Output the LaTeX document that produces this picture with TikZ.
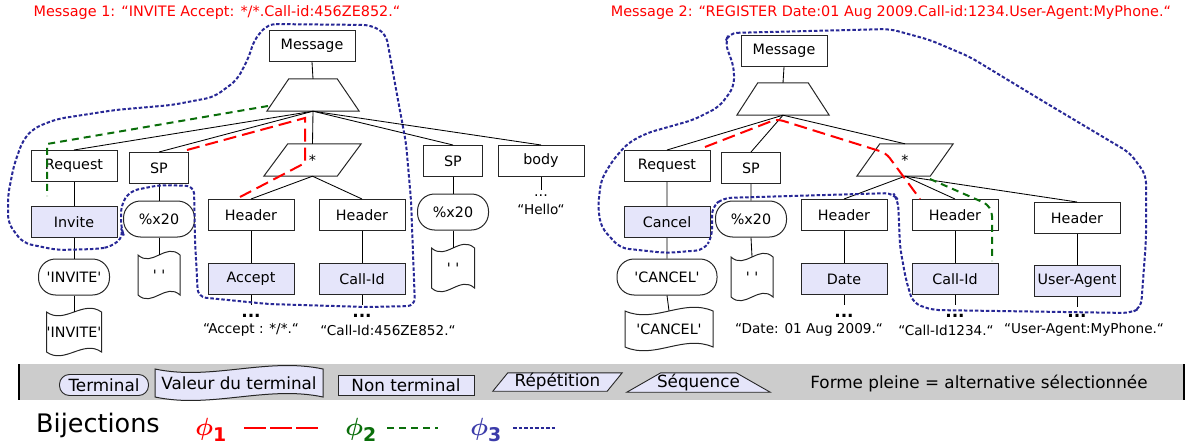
\documentclass[tikz,border=0pt]{standalone}
\usepackage{amsmath}
\usepackage{fontspec}
\setmainfont{DejaVu Sans}
\definecolor{lav}{RGB}{229,229,250}
\definecolor{bred}{RGB}{255,0,0}
\definecolor{bgrn}{RGB}{10,110,10}
\definecolor{bblu}{RGB}{40,40,150}
\definecolor{phblu}{RGB}{60,60,170}
\definecolor{barg}{RGB}{204,204,204}
\newcommand\trfont{\fontsize{14.3}{17}\selectfont}
\newcommand\lgfont{\fontsize{16.8}{19}\selectfont}
% name, cx, cy, w, h, amplitude, fill, font, text
\newcommand\tapenode[9]{%
  \path[draw=black!85,line width=1pt,fill=#7]
    ({#2-#4/2},{#3-#5/2}) .. controls ({#2-#4/6},{#3-#5/2+#6}) and ({#2+#4/6},{#3-#5/2-#6}) .. ({#2+#4/2},{#3-#5/2})
    -- ({#2+#4/2},{#3+#5/2}) .. controls ({#2+#4/6},{#3+#5/2-#6}) and ({#2-#4/6},{#3+#5/2+#6}) .. ({#2-#4/2},{#3+#5/2}) -- cycle;
  \node[inner sep=0pt,minimum width=#4pt,minimum height=#5pt,font=#8] (#1) at (#2,#3) {#9};
}
\begin{document}
\begin{tikzpicture}[x=1pt,y=-1pt,
  box/.style={draw=black!85,line width=1pt,minimum width=86pt,minimum height=31pt,inner sep=0pt,font=\trfont},
  spbox/.style={box,minimum width=59pt},
  sel/.style={fill=lav},
  term/.style={draw=black!85,line width=1pt,rounded corners=17pt,minimum width=71pt,minimum height=36pt,inner sep=0pt,font=\trfont},
  shp/.style={draw=black!85,line width=1pt},
  shapetext/.style={inner sep=0pt,font=\trfont},
  link/.style={line width=0.85pt},
  dotlab/.style={anchor=base,inner sep=0pt,font=\bfseries\fontsize{17}{17}\selectfont},
  strlab/.style={inner sep=0pt,font=\fontsize{13.6}{16}\selectfont},
  bijA/.style={draw=bred,line width=2pt,dash pattern=on 13pt off 6pt},
  bijB/.style={draw=bgrn,line width=2pt,dash pattern=on 7pt off 5pt},
  bijC/.style={draw=bblu,line width=2pt,dash pattern=on 3.5pt off 2pt,rounded corners=8pt},
]
\useasboundingbox (0,0) rectangle (1186,444);

% ---------- titles
\node[text=bred,font=\fontsize{14.4}{16}\selectfont] (t1) at (217,13) {Message 1: “INVITE Accept: */*.Call-id:456ZE852.“};
\node[text=bred,font=\fontsize{14.4}{16}\selectfont] (t2) at (891,13) {Message 2: “REGISTER Date:01 Aug 2009.Call-id:1234.User-Agent:MyPhone.“};

% ---------- left tree
\node[box] (msgL) at (312,46) {Message};
\node[shapetext,minimum width=92pt,minimum height=32pt] (seqL) at (313,95) {};
\draw[shp] (seqL.south west) -- (seqL.south east) -- ([xshift=-22pt]seqL.north east) -- ([xshift=22pt]seqL.north west) -- cycle;
\node[box] (reqL) at (74,166) {Request};
\node[spbox] (sp1L) at (159,168) {SP};
\node[shapetext,minimum width=97pt,minimum height=32pt] (starL) at (312.5,160) {*};
\draw[shp] (starL.south west) -- ([xshift=-24pt]starL.south east) -- (starL.north east) -- ([xshift=24pt]starL.north west) -- cycle;
\node[spbox] (sp2L) at (453,161) {SP};
\node[box] (bodyL) at (541,161) {body};
\node[box,sel] (invL) at (74,222) {Invite};
\node[term] (tinvL) at (74,277) {\textquotesingle INVITE\textquotesingle};
\tapenode{dinvL}{74}{332}{55}{40}{13}{white}{\trfont}{\textquotesingle INVITE\textquotesingle}
\node[term] (pct1L) at (159,219) {\%x20};
\tapenode{dsp1L}{159}{275}{42}{40}{13}{white}{\trfont}{\textquotesingle\ \textquotesingle}
\node[box] (hd1L) at (251,215) {Header};
\node[box] (hd2L) at (362,215) {Header};
\node[box,sel] (accL) at (251,279) {Accept};
\node[box,sel] (cidL) at (362,279) {Call-Id};
\node[term] (pct2L) at (453,212) {\%x20};
\tapenode{dsp2L}{453}{268}{43}{40}{13}{white}{\trfont}{\textquotesingle\ \textquotesingle}
\coordinate (accE) at (251,305);
\node[dotlab] (accD) at (251,317) {...};
\node[strlab] (accS) at (251,330) {“Accept : */*.“};
\coordinate (cidE) at (362,305);
\node[dotlab] (cidD) at (362,317) {...};
\node[strlab] (cidS) at (388,330) {“Call-Id:456ZE852.“};
\coordinate (bodyE) at (541,190);
\node[anchor=base,inner sep=0pt,font=\trfont] (bodyD) at (541,196) {...};
\node[strlab] (bodyS) at (541,209) {“Hello“};

\draw[link] (msgL.south) -- (seqL.north);
\foreach \n in {reqL,sp1L,starL,sp2L,bodyL} \draw[link] (seqL.south) -- (\n.north);
\draw[link] (starL.south) -- (hd1L.north) (starL.south) -- (hd2L.north);
\draw[link] (reqL.south) -- (invL.north) (invL.south) -- (tinvL.north) (tinvL.south) -- (dinvL.north);
\draw[link] (sp1L.south) -- (pct1L.north) (pct1L.south) -- (dsp1L.north);
\draw[link] (sp2L.south) -- (pct2L.north) (pct2L.south) -- (dsp2L.north);
\draw[link] (hd1L.south) -- (accL.north) (accL.south) -- (accE);
\draw[link] (hd2L.south) -- (cidL.north) (cidL.south) -- (cidE);
\draw[link] (bodyL.south) -- (bodyE);

% ---------- right tree
\node[box] (msgR) at (784,51) {Message};
\node[shapetext,minimum width=92pt,minimum height=32pt] (seqR) at (783,99) {};
\draw[shp] (seqR.south west) -- (seqR.south east) -- ([xshift=-21pt]seqR.north east) -- ([xshift=21pt]seqR.north west) -- cycle;
\node[box] (reqR) at (667,166) {Request};
\node[spbox] (spR) at (751,168) {SP};
\node[shapetext,minimum width=96pt,minimum height=32pt] (starR) at (905,160) {*};
\draw[shp] (starR.south west) -- ([xshift=-23pt]starR.south east) -- (starR.north east) -- ([xshift=23pt]starR.north west) -- cycle;
\node[box,sel] (canR) at (667,222) {Cancel};
\node[term,minimum width=100pt] (tcanR) at (667,277) {\textquotesingle CANCEL\textquotesingle};
\tapenode{dcanR}{669}{329}{88}{36}{13}{white}{\trfont}{\textquotesingle CANCEL\textquotesingle}
\node[term] (pctR) at (751,219) {\%x20};
\tapenode{dspR}{752}{277}{42}{40}{13}{white}{\trfont}{\textquotesingle\ \textquotesingle}
\node[box] (hd1R) at (844,215) {Header};
\node[box] (hd2R) at (955,215) {Header};
\node[box] (hd3R) at (1077,218) {Header};
\node[box,sel] (dateR) at (844,279) {Date};
\node[box,sel] (cidR) at (955,279) {Call-Id};
\node[box,sel] (uaR) at (1077,281) {User-Agent};
\coordinate (dateE) at (844,305);
\coordinate (cidRE) at (955,305);
\coordinate (uaE) at (1077,307);
\node[dotlab] (dateD) at (844,317) {...};
\node[dotlab] (cidRD) at (955,317) {...};
\node[dotlab] (uaD) at (1077,317) {...};
\node[strlab] (dateS) at (809,330) {“Date: 01 Aug 2009.“};
\node[strlab] (cidRS) at (946,330) {“Call-Id1234.“};
\node[strlab] (uaS) at (1084,330) {“User-Agent:MyPhone.“};

\draw[link] (msgR.south) -- (seqR.north);
\foreach \n in {reqR,spR,starR} \draw[link] (seqR.south) -- (\n.north);
\foreach \n in {hd1R,hd2R,hd3R} \draw[link] (starR.south) -- (\n.north);
\draw[link] (reqR.south) -- (canR.north) (canR.south) -- (tcanR.north) (tcanR.south) -- (dcanR.north);
\draw[link] (spR.south) -- (pctR.north) (pctR.south) -- (dspR.north);
\draw[link] (hd1R.south) -- (dateR.north) (dateR.south) -- (dateE);
\draw[link] (hd2R.south) -- (cidR.north) (cidR.south) -- (cidRE);
\draw[link] (hd3R.south) -- (uaR.north) (uaR.south) -- (uaE);

% ---------- bijections in trees
\draw[bijC] (268,24) -- (371,25) -- (386,34) -- (398,100) -- (406,143) -- (411,200) -- (415,306) -- (367,307) -- (268,304) -- (198,297) -- (195,240) -- (194,186) -- (160,185) -- (130,191) -- (121,205) -- (121,228) -- (124,236) -- (111,247) -- (96,249) -- (57,250) -- (23,243) -- (8,223) -- (8,195) -- (14,165) -- (23,140) -- (34,128) -- (57,119) -- (115,110) -- (172,105) -- (214,97) -- (237,80) -- (249,57) -- (254,40) -- cycle;
\draw[bijC] (729,33) -- (890,29) -- (930,40) -- (970,57) -- (1046,103) -- (1130,153) -- (1146,175) -- (1146,240) -- (1141,308) -- (1130,313) -- (932,310) -- (913,303) -- (906,280) -- (900,247) -- (898,200) -- (893,193) -- (723,198) -- (712,207) -- (712,237) -- (704,250) -- (666,253) -- (620,248) -- (601,227) -- (598,207) -- (601,180) -- (613,160) -- (628,143) -- (647,133) -- (693,120) -- (719,107) -- (734,87) -- (734,67) -- (725,43) -- cycle;
\draw[bijA] (187,150) -- (305,118) -- (305,163) -- (240,197);
\draw[bijA,rounded corners=6pt] (705,147) -- (777,119) -- (886,153) -- (920,199);
\draw[bijB] (268,106) -- (47,144) -- (47,196);
\draw[bijB,rounded corners=4pt] (930,179) -- (987,204) -- (992,212) -- (992,261);

% ---------- legend bar
\fill[barg] (19,364) rectangle (1184,400);
\draw[line width=2pt] (19,364) -- (19,400) (1184,364) -- (1184,400);
\node[draw=black!85,line width=0.9pt,fill=lav,rounded corners=10pt,minimum width=89pt,minimum height=21pt,inner sep=0pt,font=\lgfont] (lgT) at (104,385) {Terminal};
\tapenode{lgV}{239}{383}{168}{28}{12}{lav}{\lgfont}{Valeur du terminal}
\node[draw=black!85,line width=0.9pt,fill=lav,minimum width=136pt,minimum height=20pt,inner sep=0pt,font=\lgfont] (lgN) at (406,385) {Non terminal};
\node[shapetext,minimum width=129pt,minimum height=18pt] (lgR) at (557.5,382) {};
\draw[shp,line width=0.9pt,fill=lav] (lgR.south west) -- ([xshift=-15pt]lgR.south east) -- (lgR.north east) -- ([xshift=15pt]lgR.north west) -- cycle;
\node[inner sep=0pt,font=\lgfont] (lgRt) at (lgR) {Répétition};
\node[shapetext,minimum width=143pt,minimum height=19pt] (lgS) at (698.5,382.5) {};
\draw[shp,line width=0.9pt,fill=lav] (lgS.south west) -- (lgS.south east) -- ([xshift=-34pt]lgS.north east) -- ([xshift=34pt]lgS.north west) -- cycle;
\node[inner sep=0pt,font=\lgfont] (lgSt) at (lgS) {Séquence};
\node[inner sep=0pt,font=\lgfont] (lgF) at (979,384) {Forme pleine = alternative sélectionnée};

% ---------- bijection key
\node[inner sep=0pt,font=\fontsize{25.5}{30}\selectfont] (bij) at (98,425) {Bijections};
\node[inner sep=0pt,text=bred,font=\fontsize{27}{30}\selectfont] (p1) at (211,430) {$\boldsymbol{\phi}_{\mathbf 1}$};
\node[inner sep=0pt,text=bgrn,font=\fontsize{27}{30}\selectfont] (p2) at (361,430) {$\boldsymbol{\phi}_{\mathbf 2}$};
\node[inner sep=0pt,text=phblu,font=\fontsize{27}{30}\selectfont] (p3) at (486,430) {$\boldsymbol{\phi}_{\mathbf 3}$};
\coordinate (k1a) at (244,428); \coordinate (k1b) at (320,428);
\coordinate (k2a) at (387,428); \coordinate (k2b) at (438,428);
\coordinate (k3a) at (513,428); \coordinate (k3b) at (556,428);
\draw[bred,line width=2pt,dash pattern=on 22pt off 4pt] (k1a) -- (k1b);
\draw[bgrn,line width=2pt,dash pattern=on 7pt off 5pt] (k2a) -- (k2b);
\draw[bblu,line width=2pt,dash pattern=on 3.5pt off 2pt] (k3a) -- (k3b);
\end{tikzpicture}
\end{document}
